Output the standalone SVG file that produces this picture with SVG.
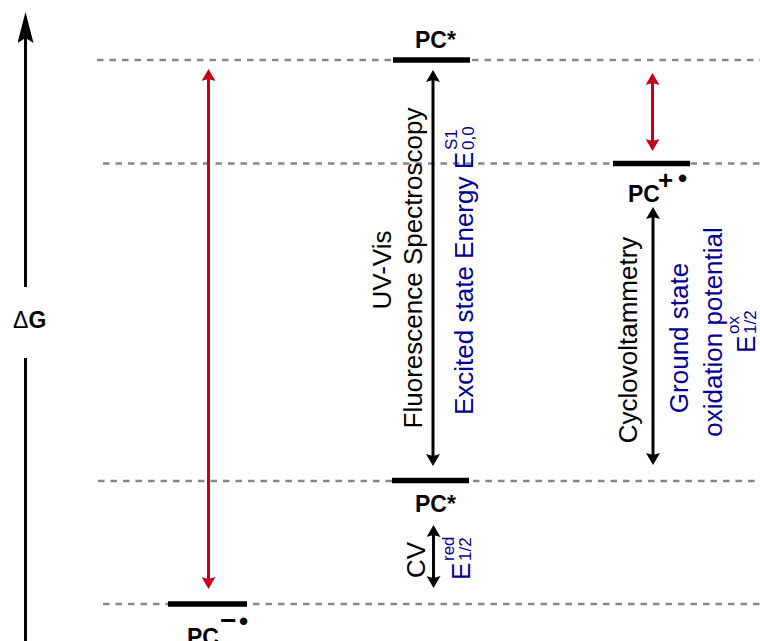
<svg xmlns="http://www.w3.org/2000/svg" width="760" height="641" viewBox="0 0 760 641">
<style>
.dash{stroke:#888;stroke-width:2.5;stroke-dasharray:6.5 6;fill:none}
.bar{stroke:#000;stroke-width:5.5}
.blk{stroke:#000;stroke-width:3;fill:none}
.red{stroke:#c4001a;stroke-width:3;fill:none}
.lbl{font-family:"Liberation Sans",Arial,sans-serif;font-weight:bold;font-size:23px;fill:#000}
.rt{font-family:"Liberation Sans",Arial,sans-serif;font-size:26px;fill:#000}
.bl{fill:#000096}
.sm{font-size:17px}
</style>
<defs>
<marker id="ah" viewBox="0 -7 12 14" markerWidth="12" markerHeight="14" refX="2" refY="0" orient="auto-start-reverse" markerUnits="userSpaceOnUse"><path d="M0,-7 L12,0 L0,7 L2,0 z" fill="#000"/></marker>
<marker id="ahr" viewBox="0 -7 12 14" markerWidth="12" markerHeight="14" refX="2" refY="0" orient="auto-start-reverse" markerUnits="userSpaceOnUse"><path d="M0,-7 L12,0 L0,7 L2,0 z" fill="#c4001a"/></marker>
<marker id="ax" viewBox="0 -8 31 16" markerWidth="31" markerHeight="16" refX="5" refY="0" orient="auto" markerUnits="userSpaceOnUse"><path d="M0,-8 L31,0 L0,8 L5,0 z" fill="#000"/></marker>
</defs>
<g id="levels">
<line class="dash" x1="97" y1="60" x2="760" y2="60"/>
<line class="dash" x1="103" y1="163.5" x2="760" y2="163.5"/>
<line class="dash" x1="98" y1="481" x2="760" y2="481"/>
<line class="dash" x1="103" y1="604" x2="760" y2="604"/>
</g>
<g id="axis">
<line class="blk" x1="25.5" y1="641" x2="25.5" y2="358"/>
<line class="blk" x1="25.5" y1="287" x2="25.5" y2="38" marker-end="url(#ax)"/>
<text class="lbl" x="13" y="328" font-size="22"><tspan font-weight="normal">Δ</tspan>G</text>
</g>
<g id="pc-excited-top">
<line class="bar" x1="393" y1="60" x2="470" y2="60"/>
<text class="lbl" x="415" y="48">PC*</text>
</g>
<g id="pc-radical-cation">
<line class="bar" x1="613" y1="163.5" x2="690" y2="163.5"/>
<text class="lbl" x="628" y="202">PC<tspan x="658" y="189" font-size="26">+</tspan><tspan x="678" y="187" font-size="26">•</tspan></text>
</g>
<g id="pc-excited-bottom">
<line class="bar" x1="392" y1="480.5" x2="469" y2="480.5"/>
<text class="lbl" x="415" y="512">PC*</text>
</g>
<g id="pc-radical-anion">
<line class="bar" x1="168" y1="604" x2="247" y2="604"/>
<text class="lbl" x="187" y="645">PC<tspan x="220" y="630" font-size="28">−</tspan><tspan x="239" y="630" font-size="26">•</tspan></text>
</g>
<g id="connectors">
<line class="red" x1="208.5" y1="79" x2="208.5" y2="579" marker-start="url(#ahr)" marker-end="url(#ahr)"/>
<line class="red" x1="652.5" y1="83" x2="652.5" y2="141" marker-start="url(#ahr)" marker-end="url(#ahr)"/>
<line class="blk" x1="433" y1="80" x2="433" y2="456" marker-start="url(#ah)" marker-end="url(#ah)"/>
<line class="blk" x1="653" y1="217" x2="653" y2="455" marker-start="url(#ah)" marker-end="url(#ah)"/>
<line class="blk" x1="433.5" y1="535" x2="433.5" y2="578" marker-start="url(#ah)" marker-end="url(#ah)"/>
</g>
<g id="labels-uvvis">
<text class="rt" transform="rotate(-90 391 270)" x="391" y="270" text-anchor="middle">UV-Vis</text>
<text class="rt" transform="rotate(-90 422 268)" x="422" y="268" text-anchor="middle">Fluorescence Spectroscopy</text>
<g transform="translate(473,415) rotate(-90)">
<text class="rt bl" x="0" y="0">Excited state Energy E</text>
<text class="rt bl sm" x="265" y="-16">S1</text>
<text class="rt bl sm" x="265" y="1">0,0</text>
</g>
</g>
<g id="labels-cv">
<text class="rt" transform="rotate(-90 637 340)" x="637" y="340" text-anchor="middle">Cyclovoltammetry</text>
<text class="rt bl" transform="rotate(-90 688 338)" x="688" y="338" text-anchor="middle">Ground state</text>
<text class="rt bl" transform="rotate(-90 722 332)" x="722" y="332" text-anchor="middle">oxidation potential</text>
<g transform="translate(755,353) rotate(-90)">
<text class="rt bl" x="0" y="0">E</text>
<text class="rt bl sm" x="19" y="-16">ox</text>
<text class="rt bl sm" x="19" y="1">1/2</text>
</g>
</g>
<g id="labels-red">
<text class="rt" transform="rotate(-90 425 560)" x="425" y="560" text-anchor="middle">CV</text>
<g transform="translate(470,580) rotate(-90)">
<text class="rt bl" x="0" y="0">E</text>
<text class="rt bl sm" x="19" y="-16">red</text>
<text class="rt bl sm" x="19" y="1">1/2</text>
</g>
</g>
</svg>
